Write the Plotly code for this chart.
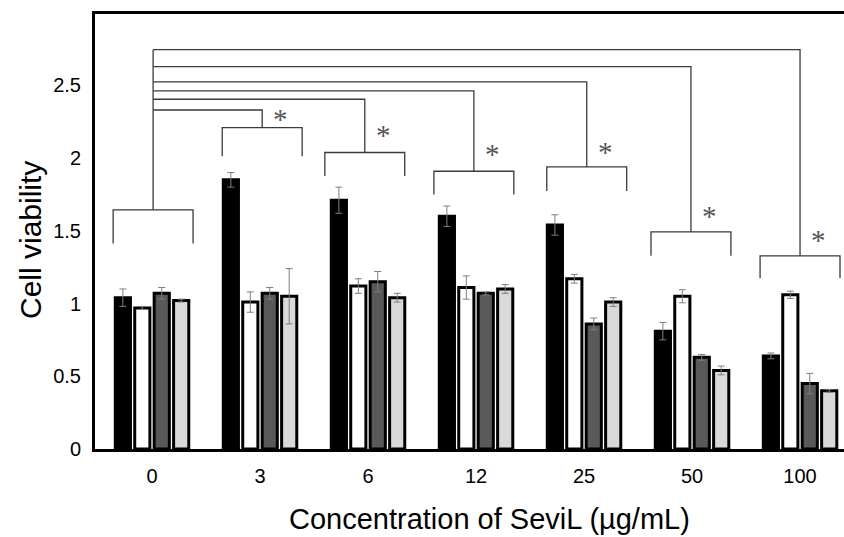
import plotly.graph_objects as go

# ---------------- data ----------------
concentrations = ["0", "3", "6", "12", "25", "50", "100"]

series_names = ["Series 1", "Series 2", "Series 3", "Series 4"]
s1_values = [1.04, 1.85, 1.71, 1.60, 1.54, 0.81, 0.64]
s1_errors = [0.06, 0.05, 0.09, 0.07, 0.07, 0.06, 0.02]
s2_values = [0.97, 1.01, 1.12, 1.11, 1.17, 1.05, 1.06]
s2_errors = [0.01, 0.07, 0.05, 0.08, 0.03, 0.045, 0.025]
s3_values = [1.07, 1.07, 1.15, 1.07, 0.86, 0.63, 0.45]
s3_errors = [0.04, 0.04, 0.07, 0.01, 0.04, 0.02, 0.07]
s4_values = [1.02, 1.05, 1.04, 1.10, 1.01, 0.54, 0.40]
s4_errors = [0.01, 0.19, 0.03, 0.03, 0.03, 0.03, 0.01]

y_tick_values = [0, 0.5, 1, 1.5, 2, 2.5]
y_tick_labels = ["0", "0.5", "1", "1.5", "2", "2.5"]

# significance brackets: top of each group bracket, bottom of its legs,
# level of the connector line from the control group, and asterisk height
bracket_tops = [1.643, 2.209, 2.038, 1.909, 1.939, 1.492, 1.328]
bracket_legs = [1.413, 2.012, 1.877, 1.749, 1.774, 1.328, 1.174]
connector_levels = [None, 2.330, 2.404, 2.461, 2.523, 2.628, 2.745]
star_heights = [None, 2.27, 2.16, 2.03, 2.04, 1.60, 1.44]
bracket_shift = [0.01, 0.02, -0.03, -0.02, 0.025, -0.01, 0.0]

# ---------------- figure ----------------
fills = ["#000000", "#ffffff", "#595959", "#d9d9d9"]
values = [s1_values, s2_values, s3_values, s4_values]
errors = [s1_errors, s2_errors, s3_errors, s4_errors]

x_idx = list(range(len(concentrations)))

fig = go.Figure()
for name, vals, errs, col in zip(series_names, values, errors, fills):
    fig.add_trace(go.Bar(
        x=x_idx, y=vals, name=name,
        marker=dict(color=col, line=dict(color="#000000", width=3)),
        error_y=dict(type="data", array=errs, visible=True,
                     color="#7f7f7f", thickness=1, width=3.5),
    ))

line_style = dict(color="#3a3a3a", width=1.3)
half = 0.37
shapes = []
annotations = []
stem0 = x_idx[0] + bracket_shift[0]
top_level = max(c for c in connector_levels if c is not None)
for i, xi in enumerate(x_idx):
    c = xi + bracket_shift[i]
    top = bracket_tops[i]
    leg = bracket_legs[i]
    shapes.append(dict(type="path", xref="x", yref="y",
                       path=f"M {c-half},{leg} L {c-half},{top} L {c+half},{top} L {c+half},{leg}",
                       line=line_style))
    if i == 0:
        shapes.append(dict(type="line", xref="x", yref="y",
                           x0=stem0, x1=stem0, y0=top, y1=top_level, line=line_style))
    else:
        lvl = connector_levels[i]
        shapes.append(dict(type="path", xref="x", yref="y",
                           path=f"M {stem0},{lvl} L {c},{lvl} L {c},{top}",
                           line=line_style))
        annotations.append(dict(x=c + 0.17, y=star_heights[i], xref="x", yref="y",
                                text="*", showarrow=False,
                                font=dict(family="Liberation Serif", size=29, color="#555555"),
                                xanchor="center", yanchor="middle"))

annotations.append(dict(x=-0.087, y=0.48, xref="paper", yref="paper",
                        text="Cell viability", textangle=-90, showarrow=False,
                        font=dict(family="Liberation Sans", size=30, color="#000000"),
                        xanchor="center", yanchor="middle"))
annotations.append(dict(x=0.527, y=-0.162, xref="paper", yref="paper",
                        text="Concentration of SeviL (µg/mL)", showarrow=False,
                        font=dict(family="Liberation Sans", size=29, color="#000000"),
                        xanchor="center", yanchor="middle"))

fig.update_layout(
    width=844, height=537,
    margin=dict(l=95, r=0, t=14, b=88),
    paper_bgcolor="white", plot_bgcolor="white",
    barmode="group", bargap=0.28, bargroupgap=0.22,
    showlegend=False,
    shapes=shapes, annotations=annotations,
    font=dict(family="Liberation Sans", size=20, color="#000000"),
    xaxis=dict(range=[-0.528, 6.407], tickvals=x_idx, ticktext=concentrations,
               showgrid=False, zeroline=False, showline=True, linecolor="#000000",
               linewidth=3, mirror=True, ticks="", ticklabelstandoff=7,
               tickfont=dict(size=20)),
    yaxis=dict(range=[0, 2.99], tickvals=y_tick_values, ticktext=y_tick_labels,
               showgrid=False, zeroline=False, showline=True, linecolor="#000000",
               linewidth=3, mirror=False, ticks="", ticklabelstandoff=7,
               tickfont=dict(size=20)),
)

fig.write_html("out.html", config={"displayModeBar": False},
               post_script="document.body.style.margin='0';document.body.style.overflow='hidden';")
